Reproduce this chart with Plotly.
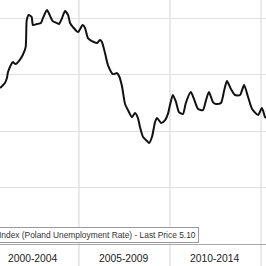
import plotly.graph_objects as go

# Decimal-year positions and Poland unemployment rate (%)
years = [2000.66, 2000.93, 2001.04, 2001.10, 2001.32, 2001.37, 2001.52, 2001.74, 2001.91, 2002.07,
         2002.13, 2002.24, 2002.40, 2002.47, 2002.69, 2002.91, 2003.02, 2003.24, 2003.39, 2003.555,
         2003.79, 2003.90, 2004.07, 2004.23, 2004.40, 2004.51, 2004.67, 2004.95, 2005.20, 2005.33,
         2005.49, 2005.71, 2005.99, 2006.15, 2006.26, 2006.43, 2006.59, 2006.87, 2007.09, 2007.20,
         2007.36, 2007.53, 2007.69, 2007.91, 2008.08, 2008.24, 2008.35, 2008.52, 2008.74, 2008.85,
         2009.01, 2009.18, 2009.29, 2009.51, 2009.73, 2009.90, 2010.00, 2010.16, 2010.33, 2010.49,
         2010.71, 2010.87, 2011.14, 2011.32, 2011.54, 2011.81, 2011.98, 2012.14, 2012.36, 2012.53,
         2012.80, 2012.97, 2013.13, 2013.35, 2013.57, 2013.85, 2014.07, 2014.29, 2014.51, 2014.84,
         2015.05, 2015.22, 2015.27]
rate = [13.80, 14.25, 14.69, 15.22, 16.02, 16.11, 15.93, 16.28, 16.73, 17.43,
        19.82, 20.27, 20.09, 19.38, 19.47, 19.56, 20.00, 20.71, 20.27, 19.73,
        19.56, 19.47, 20.00, 20.62, 20.27, 19.56, 19.20, 18.76, 19.38, 19.12,
        18.23, 17.96, 17.79, 18.05, 17.88, 16.90, 15.84, 15.04, 15.13, 14.87,
        13.98, 12.39, 11.86, 11.24, 11.59, 11.15, 10.35, 9.47, 9.12, 8.94,
        9.47, 10.80, 11.15, 10.71, 10.97, 11.59, 12.30, 13.19, 12.57, 11.68,
        11.50, 12.48, 13.45, 12.83, 11.95, 11.86, 12.74, 13.45, 12.57, 12.39,
        12.48, 13.54, 14.42, 13.72, 13.19, 13.19, 14.07, 13.01, 11.95, 11.42,
        12.04, 11.24, 11.15]

period_pos = [2002.5, 2007.5, 2012.5]
period_labels = ["2000-2004", "2005-2009", "2010-2014"]
separators = [2005, 2010, 2015]
legend_text = "Index (Poland Unemployment Rate) - Last Price 5.10"

x_range = [2000.66, 2015.275]

fig = go.Figure()
fig.add_trace(go.Scatter(x=years, y=rate, mode="lines",
                         line=dict(color="#111111", width=2, shape="spline", smoothing=0.6),
                         showlegend=False, hoverinfo="skip"))

annotations = [dict(text=lab, x=pos, xref="x", y=0, yref="paper", xanchor="center",
                    yanchor="top", yshift=-7, showarrow=False,
                    font=dict(family="Liberation Sans, Arial", size=10.3, color="#1a1a1a"))
               for pos, lab in zip(period_pos, period_labels)]
annotations.append(dict(text=legend_text, xref="paper", yref="paper", x=0, y=0,
                        xanchor="left", yanchor="bottom", xshift=-4, yshift=1, showarrow=False,
                        font=dict(family="Liberation Sans, Arial", size=8.4, color="#333333"),
                        bgcolor="white", bordercolor="#9a9a9a", borderwidth=1, borderpad=2))

# period separators: vertical grid lines running through the label strip
shapes = [dict(type="line", xref="x", yref="paper", x0=s, x1=s, y0=-0.1, y1=1,
               line=dict(color="#d4d4d4", width=1), layer="below")
          for s in separators]

fig.update_layout(
    width=266, height=266,
    margin=dict(l=0, r=0, t=0, b=22, pad=0),
    paper_bgcolor="white", plot_bgcolor="white",
    xaxis=dict(type="linear", range=x_range, showticklabels=False, automargin=False,
               showgrid=False, zeroline=False, showline=True, linecolor="#a8a8a8",
               linewidth=1, ticks=""),
    yaxis=dict(range=[0, 21.6], showticklabels=False, tickmode="linear", tick0=0, dtick=5,
               showgrid=True, gridcolor="#e0e0e0", gridwidth=1, zeroline=False, showline=False,
               automargin=False),
    annotations=annotations,
    shapes=shapes,
)

fig.write_html("out.html")
